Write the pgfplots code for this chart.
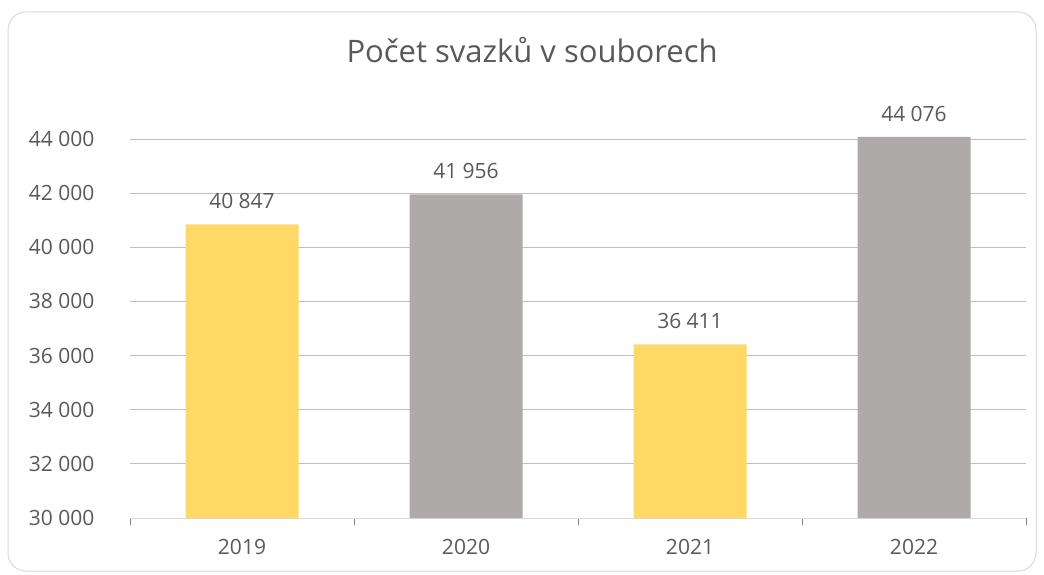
\documentclass[border=0pt]{standalone}
\usepackage{pgfplots}
\pgfplotsset{compat=1.18}
\usepackage{fontspec}
\setmainfont{Open Sans}
\definecolor{txt}{HTML}{595959}
\definecolor{grid}{HTML}{D9D9D9}
\definecolor{yel}{HTML}{FFD966}
\definecolor{gry}{HTML}{AEAAAA}
\definecolor{frame}{HTML}{D9D9D9}
\begin{document}
\begin{tikzpicture}[x=1pt,y=1pt]
\useasboundingbox (0,0) rectangle (1044,574);
\draw[frame, line width=1pt, rounded corners=18pt] (8,3) rectangle (1036,562);
\node[anchor=base, text=txt, font=\fontsize{31}{36}\selectfont] at (532,511) {Počet svazků v souborech};
\begin{axis}[
  at={(130pt,56pt)}, anchor=south west,
  scale only axis, width=896pt, height=381.7pt,
  xmin=-0.5, xmax=3.5, ymin=30000, ymax=44100,
  clip=false,
  axis x line*=bottom, axis y line*=left,
  axis line style={draw=none},
  xmajorgrids=false, xminorgrids=false,
  ymajorgrids, grid style={grid, line width=1pt},
  scaled y ticks=false,
  ytick={30000,32000,...,44000},
  xtick={0,1,2,3}, xticklabels={2019,2020,2021,2022},
  major tick length=0pt,
  minor xtick={-0.5,0.5,1.5,2.5,3.5},
  minor tick length=7pt,
  minor tick style={grid, line width=1pt},
  tick align=outside,
  every tick label/.append style={text=txt, font=\fontsize{21}{25}\selectfont},
  yticklabel style={xshift=-32pt},
  xticklabel style={yshift=-18pt},
  /pgf/number format/.cd, assume math mode=true, fixed, precision=0, 1000 sep={\ },
  /pgfplots/.cd,
  bar width=113pt,
  ybar, bar shift=0pt,
  nodes near coords,
  every node near coord/.append style={text=txt, font=\fontsize{21}{25}\selectfont, yshift=12pt},
]
\draw[grid, line width=1pt] (axis cs:-0.5,30000) -- (axis cs:3.5,30000);
\addplot[fill=yel, draw=none] coordinates {(0,40847) (2,36411)};
\addplot[fill=gry, draw=none] coordinates {(1,41956) (3,44076)};
\end{axis}
\end{tikzpicture}
\end{document}
